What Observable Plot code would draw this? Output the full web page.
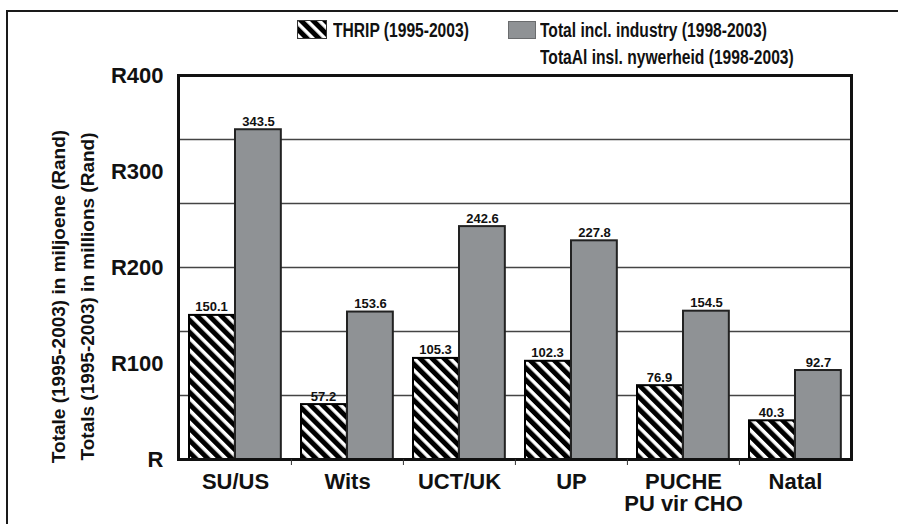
<!DOCTYPE html>
<html><head><meta charset="utf-8">
<script src="https://cdn.jsdelivr.net/npm/d3@7"></script>
<script src="https://cdn.jsdelivr.net/npm/@observablehq/plot@0.6"></script>
<style>
html,body{margin:0;padding:0;background:#fff;overflow:hidden;width:898px;height:524px;}
body{position:relative;font-family:"Liberation Sans",Arial,sans-serif;font-weight:bold;color:#111;}
#border{position:absolute;left:6px;top:10px;width:1000px;height:1000px;border:2.5px solid #1a1a1a;box-sizing:border-box;pointer-events:none;}
#legend{position:relative;height:62px;}
.sw{position:absolute;box-sizing:border-box;}
.lt{position:absolute;font-size:20px;line-height:27px;white-space:pre;transform-origin:0 0;transform:scaleX(0.78);}
#chart{position:relative;height:462px;}
</style></head>
<body>
<svg width="0" height="0" style="position:absolute"><defs>
<pattern id="hatch" patternUnits="userSpaceOnUse" width="8.5" height="8.5" patternTransform="rotate(-45)">
<rect width="8.5" height="8.5" fill="#fff"/><rect width="5" height="8.5" fill="#000"/>
</pattern></defs></svg>
<div id="border"></div>
<div id="legend"></div>
<div id="chart"></div>
<script>
// ---- data ----
const categories = ["SU/US", "Wits", "UCT/UK", "UP", "PUCHE\nPU vir CHO", "Natal"];
const seriesNames = ["THRIP (1995-2003)", "Total incl. industry (1998-2003)\nTotaAl insl. nywerheid (1998-2003)"];
const thrip = [150.1, 57.2, 105.3, 102.3, 76.9, 40.3];
const totalIndustry = [343.5, 153.6, 242.6, 227.8, 154.5, 92.7];
const yTicks = [0, 100, 200, 300, 400];
const yTickLabels = ["R", "R100", "R200", "R300", "R400"];
const yTitle = "Totale (1995-2003) in miljoene (Rand)\nTotals (1995-2003) in millions (Rand)";

// ---- legend ----
const legend = document.getElementById("legend");
legend.innerHTML = `
<svg class="sw" style="left:297px;top:20px" width="30" height="19"><rect x="0.5" y="0.5" width="29" height="18" fill="url(#hatch)" stroke="#333"/></svg>
<div class="lt" style="left:333px;top:16.5px">${seriesNames[0]}</div>
<div class="sw" style="left:508px;top:21px;width:28px;height:18px;background:#8f9295;border:1px solid #6a6c6e"></div>
<div class="lt" style="left:540px;top:16.5px">${seriesNames[1]}</div>`;

// ---- chart ----
const W = 898, H = 462, ml = 178, mr = 47, mt = 13, mb = 65;
const bw = (W - ml - mr) / categories.length;
const rowsT = categories.map((c, i) => ({cat: c, value: thrip[i]}));
const rowsI = categories.map((c, i) => ({cat: c, value: totalIndustry[i]}));
const gridVals = d3.range(1, 6).map(k => k * 400 / 6);

const chart = Plot.plot({
  width: W, height: H,
  marginLeft: ml, marginRight: mr, marginTop: mt, marginBottom: mb,
  style: {fontFamily: "'Liberation Sans', Arial, sans-serif", fontWeight: "bold", color: "#111", background: "transparent", overflow: "visible"},
  x: {domain: categories, padding: 0},
  y: {domain: [0, 400]},
  marks: [
    Plot.ruleY(gridVals, {stroke: "#444", strokeWidth: 1.4}),
    Plot.barY(rowsT, {x: "cat", y: "value", fill: "url(#hatch)", stroke: "#000", strokeWidth: 2, insetLeft: 10, insetRight: bw - 56}),
    Plot.barY(rowsI, {x: "cat", y: "value", fill: "#8f9295", stroke: "#222", strokeWidth: 2, insetLeft: 56, insetRight: bw - 102}),
    Plot.text(rowsT, {x: "cat", y: "value", text: d => d.value.toFixed(1), dx: -24, dy: -4, lineAnchor: "bottom", fontSize: 13, fill: "#111"}),
    Plot.text(rowsI, {x: "cat", y: "value", text: d => d.value.toFixed(1), dx: 23, dy: -4, lineAnchor: "bottom", fontSize: 13, fill: "#111"}),
    Plot.frame({stroke: "#111", strokeWidth: 3}),
    Plot.axisY(yTicks, {tickSize: 0, tickPadding: 15, tickFormat: d => yTickLabels[yTicks.indexOf(d)], fontSize: 22, label: null}),
    Plot.axisX(categories.slice(1), {tickSize: 6, tickFormat: () => "", dx: -bw / 2, label: null, stroke: "#333"}),
    Plot.axisX({tickSize: 0, tickPadding: 14, fontSize: 22, lineHeight: 1.0, label: null}),
    Plot.text([yTitle], {text: d => d, frameAnchor: "left", textAnchor: "middle", lineAnchor: "middle", rotate: -90, dx: -108, dy: 29, fontSize: 19, lineHeight: 1.5, fill: "#111"})
  ]
});
document.getElementById("chart").appendChild(chart);
</script>
</body></html>
